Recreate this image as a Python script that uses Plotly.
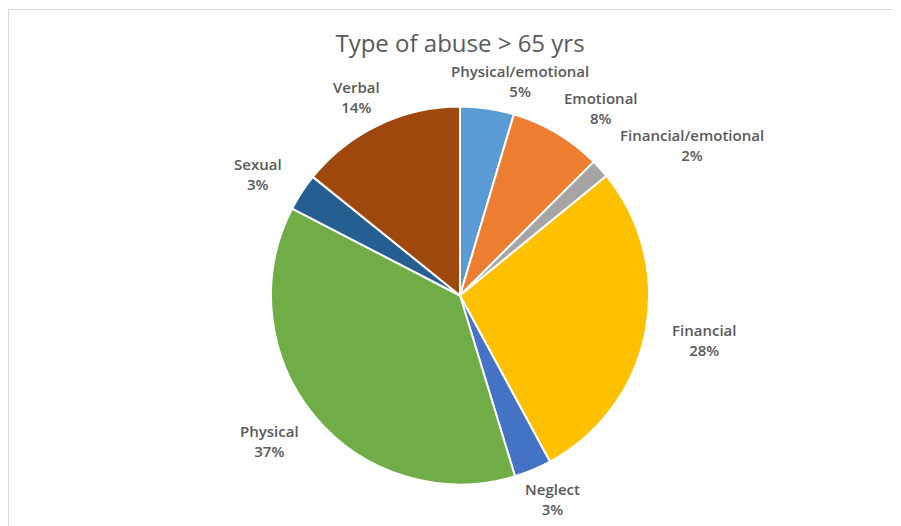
import math
import plotly.graph_objects as go

# ---- data ----
categories = ["Physical/emotional", "Emotional", "Financial/emotional", "Financial",
              "Neglect", "Physical", "Sexual", "Verbal"]
shares = [4.6, 7.9, 1.6, 28.0, 3.2, 37.3, 3.2, 14.2]
colors = ["#5B9BD5", "#ED7D31", "#A5A5A5", "#FFC000",
          "#4472C4", "#70AD47", "#255E91", "#9E480E"]
title_text = "Type of abuse > 65 yrs"

# ---- layout geometry (page pixels; the page body has an 8px margin) ----
W, H = 901, 526
OFF = 8
CX, CY, R = 460, 295.5, 189
FONT = "Open Sans"
TXT = "#595959"
CHAR_W = 8.0
LINE_H = 21
KX = 1.06
KY = 0.975


def fx(x):
    return (x - OFF) / W


def fy(y):
    return 1 - (y - OFF) / H


fig = go.Figure(go.Pie(
    labels=categories, values=shares, sort=False, direction="clockwise", rotation=0,
    marker=dict(colors=colors, line=dict(color="white", width=2)),
    textinfo="none", hoverinfo="label+percent", showlegend=False,
    domain=dict(x=[fx(CX - R), fx(CX + R)], y=[fy(CY + R), fy(CY - R)]),
))


def place(theta, wn):
    s, c = math.sin(theta), math.cos(theta)
    ext = abs(s) * wn / 2 / KX + abs(c) * LINE_H
    d = R + 8 + ext
    return CX + d * s * KX, CY - d * c * KY


def rects(px, py, wn, wp):
    return [(px - wn / 2, py - LINE_H, px + wn / 2, py),
            (px - wp / 2, py, px + wp / 2, py + LINE_H)]


def overlap(a, b, padx=4, pady=6):
    return not (a[2] + padx <= b[0] or b[2] + padx <= a[0]
                or a[3] + pady <= b[1] or b[3] + pady <= a[1])


# data labels placed outside each slice, from the slice mid-angle, nudged clockwise
# when they would collide with a label already placed
total = sum(shares)
cum = 0.0
annotations = []
placed = []
title_bottom = 60
for name, v in zip(categories, shares):
    theta = (cum + v / 2) / total * 2 * math.pi
    cum += v
    pct = f"{round(v / total * 100)}%"
    wn, wp = len(name) * CHAR_W, len(pct) * CHAR_W
    for _ in range(40):
        px, py = place(theta, wn)
        if py - LINE_H < title_bottom:
            py = title_bottom + LINE_H
            px += 25
        rs = rects(px, py, wn, wp)
        if not any(overlap(a, b) for a in rs for b in placed):
            break
        theta += math.radians(1)
    placed.extend(rs)
    annotations.append(dict(
        x=fx(px), y=fy(py), xref="paper", yref="paper", showarrow=False,
        xanchor="center", yanchor="middle", align="center",
        text=f"{name}<br>{pct}",
        font=dict(family=FONT, size=15, color=TXT, weight=600),
    ))

fig.update_layout(
    width=W, height=H, margin=dict(l=0, r=0, t=0, b=0),
    paper_bgcolor="white", plot_bgcolor="white",
    title=dict(text=title_text, x=fx(CX), xanchor="center", y=fy(44), yanchor="middle",
               font=dict(family=FONT, size=24, color=TXT)),
    annotations=annotations,
    shapes=[dict(type="rect", xref="paper", yref="paper",
                 x0=fx(8.5), x1=1.02, y0=-0.02, y1=fy(9.5),
                 line=dict(color="#D9D9D9", width=1.2))],
)

fig.write_html("out.html")
